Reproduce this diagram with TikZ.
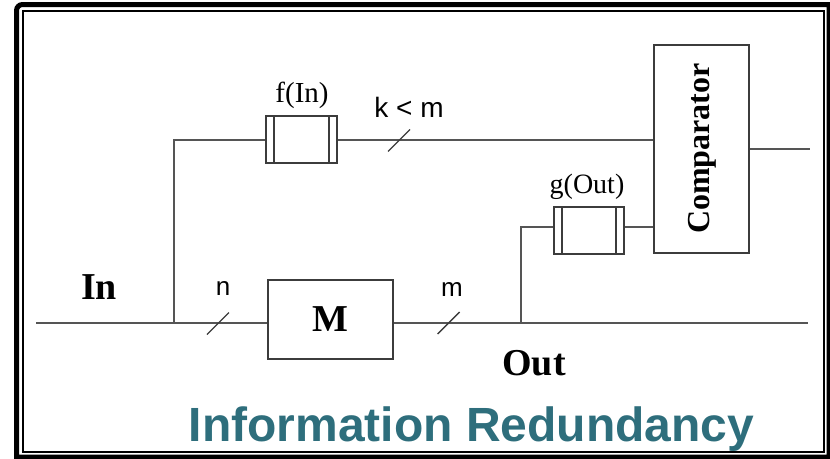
\documentclass[tikz,border=0pt]{standalone}
\usepackage{fontspec}
\setmainfont{Liberation Serif}
\newfontfamily\arialfont{Liberation Sans}
\definecolor{titlecol}{RGB}{46,110,124}
\definecolor{wirecol}{RGB}{85,85,85}
\definecolor{boxcol}{RGB}{60,60,60}
\newcommand{\fsz}[1]{\fontsize{#1}{#1}\selectfont}
\begin{document}
\begin{tikzpicture}[x=1pt,y=-1pt,
  wire/.style={draw=wirecol, line width=1.9pt},
  slashline/.style={draw=boxcol, line width=1.4pt},
  blockbox/.style={draw=boxcol, line width=1.8pt, fill=white, inner sep=0pt},
  lbl/.style={inner sep=0pt, text=black}]
\useasboundingbox (0,0) rectangle (830,458);
% frame
\draw[line width=5pt] (16.5,457) -- (16.5,10.5) arc[start angle=180, end angle=270, radius=6] -- (829,4.5) -- (829,457) -- cycle;
\draw[line width=1.8pt] (23,11) rectangle (824,452);
% coordinates
\coordinate (inL) at (36,323);
\coordinate (j1) at (174,323);
\coordinate (j1top) at (174,140);
\coordinate (j2) at (521,323);
\coordinate (j2top) at (521,227);
\coordinate (outR) at (808,323);
\coordinate (cmpOut) at (810,149);
\coordinate (sn) at (218,323.5);
\coordinate (sm) at (448.5,323);
\coordinate (sk) at (399,140.5);
% blocks
\node[blockbox, minimum width=125pt, minimum height=79pt] (M) at (330.5,319.5) {\fsz{38}\bfseries M};
\node[blockbox, minimum width=71pt, minimum height=47pt] (f) at (301.5,139.5) {};
\node[blockbox, minimum width=70pt, minimum height=47pt] (g) at (589,230.5) {};
\node[blockbox, minimum width=95pt, minimum height=208pt] (cmp) at (701.5,149) {};
\node[lbl, rotate=90] (cmptxt) at (702,148.5) {\fsz{32}\bfseries Comparator};
% inner bars of f and g
\foreach \b in {f,g}{
  \draw[draw=boxcol, line width=1.4pt] ([xshift=9pt]\b.north west) -- ([xshift=9pt]\b.south west);
  \draw[draw=boxcol, line width=1.4pt] ([xshift=-9pt]\b.north east) -- ([xshift=-9pt]\b.south east);
}
% wires
\draw[wire] (inL) -- (M.west |- inL);
\draw[wire] (M.east |- inL) -- (outR);
\draw[wire] (j1) -- (j1top) -- (f.west |- j1top);
\draw[wire] (f.east |- j1top) -- (cmp.west |- j1top);
\draw[wire] (j2) -- (j2top) -- (g.west |- j2top);
\draw[wire] (g.east |- j2top) -- (cmp.west |- j2top);
\draw[wire] (cmp.east |- cmpOut) -- (cmpOut);
% bus slashes
\foreach \s in {sn,sm,sk}{
  \draw[slashline] (\s) ++(-11,11) -- ++(22,-22);
}
% labels
\node[lbl] (inlbl) at (99,287) {\fsz{38}\bfseries In};
\node[lbl] (outlbl) at (534,363) {\fsz{38}\bfseries Out};
\node[lbl] (nlbl) at (223,289) {\arialfont\fsz{26}n};
\node[lbl] (mlbl) at (452,290) {\arialfont\fsz{26}m};
\node[lbl] (klbl) at (409,107) {\arialfont\fsz{28}k < m};
\node[lbl] (flbl) at (302,95) {\fsz{29}f(In)};
\node[lbl] (glbl) at (587,187) {\fsz{28}g(Out)};
\node[lbl, anchor=base, text=titlecol] (title) at (471.5,441) {\arialfont\fsz{48}\bfseries Information Redundancy};
\end{tikzpicture}
\end{document}
